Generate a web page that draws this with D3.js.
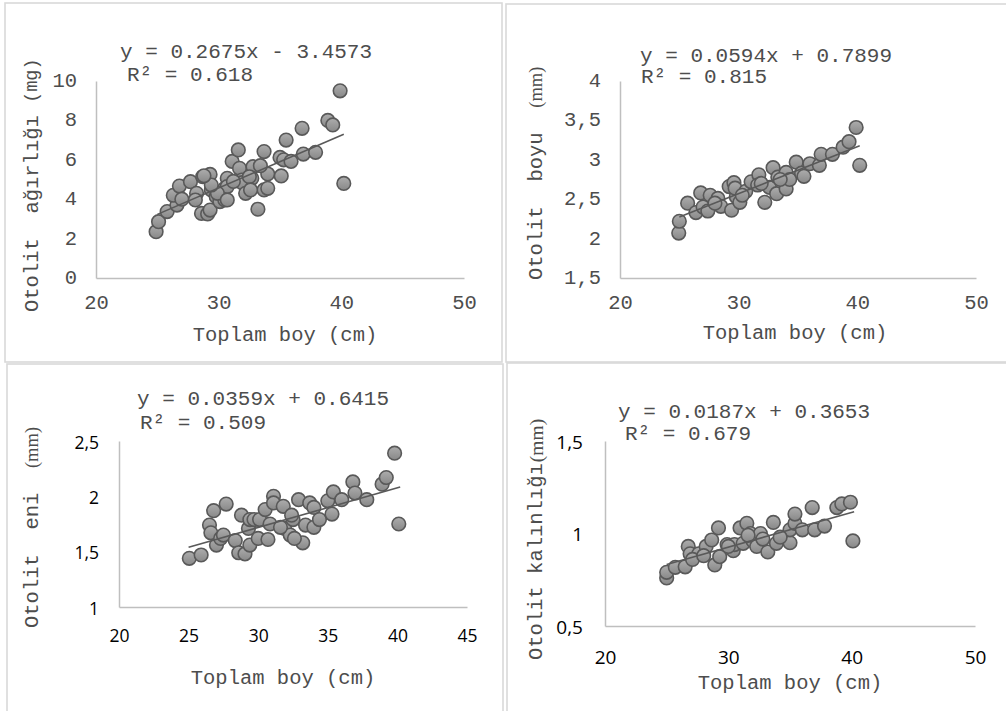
<!DOCTYPE html>
<html><head><meta charset="utf-8">
<script src="https://cdn.jsdelivr.net/npm/d3@7"></script>
<style>
html,body{margin:0;padding:0;background:#fff;}
svg{display:block;}
text{white-space:pre;}
</style></head><body>
<svg id="c" width="1006" height="711"></svg>
<script>
// ---------------- DATA ----------------
const weightPts = [
[24.9,2.35],[25.1,2.86],[25.8,3.37],[26.6,3.7],[26.3,4.2],[26.8,4.67],[27.0,4.0],[27.7,4.89],[28.2,4.3],[28.1,3.96],
[28.7,5.14],[29.3,5.26],[28.6,3.28],[29.1,3.25],[29.3,3.45],[29.4,4.47],[29.8,4.13],[30.1,3.88],[30.5,3.96],[30.7,5.06],
[30.5,4.55],[30.7,4.64],[31.1,5.92],[31.6,6.5],[31.7,5.57],[31.9,4.97],[31.9,4.84],[32.2,4.3],[32.8,5.65],[32.7,5.06],
[32.5,5.14],[33.7,6.42],[34.0,5.28],[33.7,4.47],[34.0,4.55],[33.2,3.49],[35.0,6.12],[35.3,6.0],[35.1,5.18],[35.5,7.0],
[35.9,5.92],[36.9,6.29],[37.9,6.38],[36.8,7.6],[38.9,8.0],[39.3,7.77],[39.9,9.5],[40.2,4.8],[29.9,4.3],[30.7,3.96],
[29.4,4.72],[28.8,5.19],[33.4,5.7],[32.6,4.47],[31.2,4.9]
];
const lengthPts = [
[24.95,2.07],[25.0,2.22],[25.7,2.45],[26.4,2.33],[26.8,2.58],[27.0,2.40],[27.4,2.35],[27.6,2.55],[28.25,2.51],[28.5,2.41],
[29.2,2.66],[29.6,2.71],[29.4,2.36],[29.8,2.53],[30.1,2.46],[29.7,2.64],[30.6,2.6],[31.05,2.72],[31.7,2.81],[31.6,2.68],
[32.2,2.46],[32.6,2.65],[32.9,2.9],[33.2,2.57],[33.3,2.78],[34.0,2.84],[34.0,2.63],[34.3,2.75],[34.85,2.97],[35.3,2.83],
[35.5,2.79],[36.0,2.95],[36.8,2.93],[36.95,3.07],[37.9,3.07],[38.8,3.16],[39.3,3.23],[39.9,3.41],[40.2,2.93],[28.0,2.45],
[30.3,2.55],[31.9,2.7],[33.5,2.75]
];
const widthPts = [
[25.05,1.44],[25.9,1.47],[26.5,1.74],[26.6,1.67],[26.8,1.87],[27.0,1.56],[27.3,1.62],[27.5,1.65],[27.7,1.93],[28.35,1.6],
[28.6,1.49],[28.8,1.83],[29.05,1.48],[29.3,1.71],[29.4,1.79],[29.4,1.56],[29.7,1.79],[30.0,1.62],[30.1,1.79],[30.5,1.88],
[30.7,1.61],[30.85,1.75],[31.1,2.0],[31.1,1.94],[31.8,1.91],[31.9,1.71],[32.3,1.65],[32.5,1.79],[32.4,1.83],[32.9,1.97],
[33.2,1.58],[33.4,1.74],[33.7,1.94],[34.0,1.9],[34.0,1.72],[34.4,1.79],[35.0,1.96],[35.3,1.84],[35.4,2.04],[36.0,1.97],
[36.8,2.13],[36.95,2.03],[37.8,1.97],[38.9,2.11],[39.2,2.17],[39.8,2.39],[40.1,1.75],[31.6,1.72],[32.6,1.62]
];
const thickPts = [
[25.0,0.76],[25.0,0.79],[25.7,0.817],[26.5,0.82],[26.75,0.93],[26.9,0.89],[27.6,0.89],[28.2,0.93],[28.65,0.965],[28.9,0.83],
[29.3,0.875],[29.2,1.03],[29.9,0.94],[30.4,0.907],[30.5,0.94],[31.2,0.947],[30.95,1.03],[31.5,1.055],[31.8,1.0],[32.0,0.96],
[32.6,1.0],[32.3,0.93],[33.2,0.90],[33.9,0.947],[33.65,1.06],[35.0,0.95],[35.0,1.02],[35.4,1.055],[35.4,1.105],[36.0,1.02],
[37.0,1.02],[37.8,1.04],[36.8,1.14],[38.8,1.14],[39.2,1.16],[39.9,1.169],[40.1,0.96],[27.1,0.86],[28.0,0.88],[30.0,0.93],
[31.6,0.99],[32.8,0.97],[34.2,0.98]
];

const xTicks50 = [20,30,40,50];
const xTicks45 = [20,25,30,35,40,45];
const weightTicks = [0,2,4,6,8,10];
const lengthTicks = [1.5,2,2.5,3,3.5,4];
const widthTicks = [1,1.5,2,2.5];
const thickTicks = [0.5,1,1.5];

const slopes = [0.2675, 0.0594, 0.0359, 0.0187];
const intercepts = [-3.4573, 0.7899, 0.6415, 0.3653];
const trendRange = [25, 40.2];
const eqLabels = ["y = 0.2675x - 3.4573","y = 0.0594x + 0.7899","y = 0.0359x + 0.6415","y = 0.0187x + 0.3653"];
const r2Labels = ["R² = 0.618","R² = 0.815","R² = 0.509","R² = 0.679"];
const yTitleMain = ["Otolit  ağırlığı ","Otolit  boyu  ","Otolit  eni  ","Otolit kalınlığı"];
const yTitleUnit = ["(mg)","(mm)","(mm)","(mm)"];
const xTitle = "Toplam boy (cm)";

// ---------------- LAYOUT ----------------
const MONO = "'Liberation Mono','DejaVu Sans Mono',monospace";
const SERIF = "'Liberation Serif','DejaVu Serif',serif";
const SANS = "'Open Sans','Noto Sans',sans-serif";
const TXT = "#4d4d4d";

const panels = [
 {pts:weightPts, xd:[20,50], yd:[0,10], xt:xTicks50, yt:weightTicks,
  frame:[5,3,497,359], xr:[96,464], yr:[278,81],
  tickFont:MONO, tickSize:20.5, tickColor:TXT, xLabOff:25, yLabPad:19,
  eq:[120,52], r2:[127,75], xTitlePos:[285,335], yTitlePos:[32,312],
  unitFont:MONO, unitSize:18.5, unitDx:0},
 {pts:lengthPts, xd:[20,50], yd:[1.5,4], xt:xTicks50, yt:lengthTicks,
  frame:[506,4,510,358], xr:[620,976], yr:[278,81],
  tickFont:MONO, tickSize:20.5, tickColor:TXT, xLabOff:25, yLabPad:19,
  eq:[640,56], r2:[641,77], xTitlePos:[795,333], yTitlePos:[536,280],
  unitFont:SERIF, unitSize:18.5, unitDx:0},
 {pts:widthPts, xd:[20,45], yd:[1,2.5], xt:xTicks45, yt:widthTicks,
  frame:[7,364,496,360], xr:[119,467], yr:[607,441],
  tickFont:SANS, tickSize:17.5, tickColor:"#000", xLabOff:28, yLabPad:20,
  eq:[137,399], r2:[140,423], xTitlePos:[283,678], yTitlePos:[32,628],
  unitFont:SERIF, unitSize:18.5, unitDx:0},
 {pts:thickPts, xd:[20,50], yd:[0.5,1.5], xt:xTicks50, yt:thickTicks,
  frame:[507,363,510,360], xr:[605,975], yr:[626,441],
  tickFont:SANS, tickSize:19, tickColor:"#000", xLabOff:31, yLabPad:22,
  eq:[618,412], r2:[625,434], xTitlePos:[790,683], yTitlePos:[536,660],
  unitFont:SERIF, unitSize:19.5, unitDx:1}
];

const fmt = d => String(d).replace(".", ",");

const svg = d3.select("#c");
const defs = svg.append("defs");
const grad = defs.append("linearGradient").attr("id","dotfill")
  .attr("x1",0).attr("y1",0).attr("x2",0).attr("y2",1);
grad.append("stop").attr("offset","0%").attr("stop-color","#adadad");
grad.append("stop").attr("offset","100%").attr("stop-color","#888888");

panels.forEach((P, i) => {
  svg.append("rect")
    .attr("x",P.frame[0]).attr("y",P.frame[1])
    .attr("width",P.frame[2]).attr("height",P.frame[3])
    .attr("fill","none").attr("stroke","#d9d9d9").attr("stroke-width",1.6);

  const x = d3.scaleLinear().domain(P.xd).range(P.xr);
  const y = d3.scaleLinear().domain(P.yd).range(P.yr);

  const gx = svg.append("g")
    .attr("transform",`translate(0,${P.yr[0]})`)
    .call(d3.axisBottom(x).tickValues(P.xt).tickSize(0).tickSizeOuter(0).tickFormat(fmt));
  gx.select(".domain").attr("stroke","#bfbfbf").attr("stroke-width",1.5);
  gx.selectAll("text").attr("y",P.xLabOff).attr("dy",null)
    .attr("dominant-baseline","central")
    .attr("font-family",P.tickFont).attr("font-size",P.tickSize).attr("fill",P.tickColor);

  const gy = svg.append("g")
    .attr("transform",`translate(${P.xr[0]},0)`)
    .call(d3.axisLeft(y).tickValues(P.yt).tickSize(0).tickSizeOuter(0).tickFormat(fmt));
  gy.select(".domain").attr("stroke","#bfbfbf").attr("stroke-width",1.5);
  gy.selectAll("text").attr("x",-P.yLabPad).attr("dy",null)
    .attr("dominant-baseline","central")
    .attr("font-family",P.tickFont).attr("font-size",P.tickSize).attr("fill",P.tickColor);

  svg.append("g").selectAll("circle").data(P.pts).join("circle")
    .attr("cx",d=>x(d[0])).attr("cy",d=>y(d[1])).attr("r",6.8)
    .attr("fill","url(#dotfill)").attr("stroke","#595959").attr("stroke-width",1.6);

  const f = v => slopes[i]*v + intercepts[i];
  svg.append("line")
    .attr("x1",x(trendRange[0])).attr("y1",y(f(trendRange[0])))
    .attr("x2",x(trendRange[1])).attr("y2",y(f(trendRange[1])))
    .attr("stroke","#595959").attr("stroke-width",1.6);

  svg.append("text").attr("x",P.eq[0]).attr("y",P.eq[1])
    .attr("dominant-baseline","central")
    .attr("font-family",MONO).attr("font-size",21).attr("fill",TXT).text(eqLabels[i]);
  svg.append("text").attr("x",P.r2[0]).attr("y",P.r2[1])
    .attr("dominant-baseline","central")
    .attr("font-family",MONO).attr("font-size",21).attr("fill",TXT).text(r2Labels[i]);

  svg.append("text").attr("x",P.xTitlePos[0]).attr("y",P.xTitlePos[1])
    .attr("text-anchor","middle").attr("dominant-baseline","central")
    .attr("font-family",MONO).attr("font-size",20.5).attr("fill",TXT).text(xTitle);

  const yt = svg.append("text")
    .attr("transform",`translate(${P.yTitlePos[0]},${P.yTitlePos[1]}) rotate(-90)`)
    .attr("dominant-baseline","central")
    .attr("font-family",MONO).attr("font-size",20.5).attr("fill",TXT);
  yt.append("tspan").text(yTitleMain[i]);
  yt.append("tspan").attr("dx",P.unitDx).attr("font-family",P.unitFont).attr("font-size",P.unitSize).text(yTitleUnit[i]);
});
</script>
</body></html>
